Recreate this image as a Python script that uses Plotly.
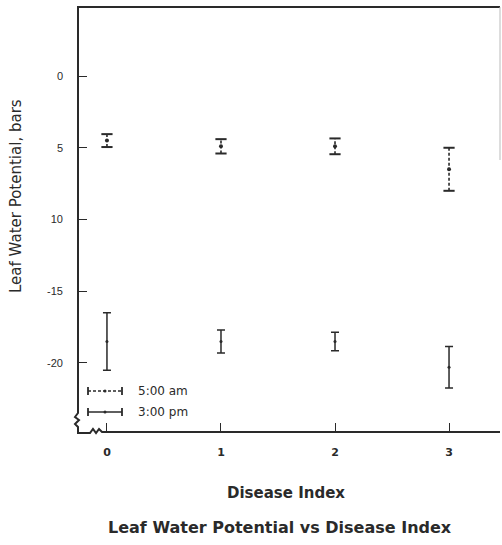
import plotly.graph_objects as go

# ---- data ----
disease_index = [0, 1, 2, 3]
am_mean = [-4.5, -4.9, -4.9, -6.5]
am_err = [0.45, 0.5, 0.55, 1.5]
pm_mean = [-18.5, -18.5, -18.5, -20.3]
pm_err = [2.0, 0.8, 0.65, 1.45]
y_tickvals = [0, -5, -10, -15, -20]
y_ticktext = ["0", "5", "10", "-15", "-20"]
x_tickvals = [0, 1, 2, 3]
legend_labels = ["5:00 am", "3:00 pm"]

W, H = 502, 545
L, R, T, B = 78, 500, 7, 432
INK = "#2a2a2a"
FONT = "DejaVu Sans, Liberation Sans, sans-serif"


def px(x, y):
    return (x - L) / (R - L), (B - y) / (B - T)


fig = go.Figure()

# 5:00 am: dashed vertical bars built from the data
xs, ys = [], []
for x, m, e in zip(disease_index, am_mean, am_err):
    xs += [x, x, None]
    ys += [m - e, m + e, None]
fig.add_trace(go.Scatter(x=xs, y=ys, mode="lines",
                         line=dict(color=INK, width=1.6, dash="3px,2px"),
                         showlegend=False, hoverinfo="skip"))
cap_x = [x for x in disease_index for _ in (0, 1)]
cap_y = [v for m, e in zip(am_mean, am_err) for v in (m - e, m + e)]
fig.add_trace(go.Scatter(x=cap_x, y=cap_y, mode="markers",
                         marker=dict(symbol="line-ew", size=8,
                                     line=dict(color=INK, width=2)),
                         showlegend=False, hoverinfo="skip"))
fig.add_trace(go.Scatter(x=disease_index, y=am_mean, mode="markers",
                         marker=dict(symbol="circle", size=4, color=INK),
                         name=legend_labels[0], showlegend=False))

# 3:00 pm: solid error bars
fig.add_trace(go.Scatter(x=disease_index, y=pm_mean, mode="markers",
                         marker=dict(symbol="circle", size=3, color=INK),
                         error_y=dict(type="data", array=pm_err, visible=True,
                                      color=INK, thickness=1.5, width=4),
                         name=legend_labels[1], showlegend=False))

shapes = []
# frame with broken-axis squiggles
pts = [(R, T), (L, T), (L, 413), (75, 417), (79, 420), (75, 424), (78, 427),
       (78, 433), (90, 433), (93, 429), (96, 433), (99, 429), (102, 432), (R, 432)]
path = "M " + " L ".join(f"{px(a, b)[0]:.4f},{px(a, b)[1]:.4f}" for a, b in pts)
shapes.append(dict(type="path", xref="paper", yref="paper", path=path,
                   line=dict(color=INK, width=2)))
# faint right frame edge
x0, y0 = px(R, T)
x1, y1 = px(R, 160)
shapes.append(dict(type="line", xref="paper", yref="paper", x0=x0, y0=y0, x1=x1, y1=y1,
                   line=dict(color="#bbbbbb", width=1)))

# legend keys
annotations = []
for label, ky, dash in [(legend_labels[0], 391, "3px,2px"), (legend_labels[1], 412, "solid")]:
    xa, ya = px(88, ky)
    xb, _ = px(122, ky)
    _, yt = px(88, ky - 4)
    _, yb = px(88, ky + 4)
    shapes.append(dict(type="line", xref="paper", yref="paper", x0=xa, y0=ya, x1=xb, y1=ya,
                       line=dict(color=INK, width=1.6, dash=dash)))
    for xc in (xa, xb):
        shapes.append(dict(type="line", xref="paper", yref="paper", x0=xc, y0=yt, x1=xc, y1=yb,
                           line=dict(color=INK, width=1.8)))
    xm = (xa + xb) / 2
    shapes.append(dict(type="circle", xref="paper", yref="paper",
                       x0=xm - 1.5 / (R - L), x1=xm + 1.5 / (R - L),
                       y0=ya - 1.5 / (B - T), y1=ya + 1.5 / (B - T),
                       fillcolor=INK, line=dict(width=0)))
    tx, _ = px(136, ky)
    annotations.append(dict(x=tx, y=ya, xref="paper", yref="paper", text=label,
                            showarrow=False, xanchor="left", yanchor="middle",
                            font=dict(size=12, color=INK, family=FONT)))

# axis titles and main title
ax, ay = px(286, 493)
annotations.append(dict(x=ax, y=ay, xref="paper", yref="paper",
                        text="<b>Disease Index</b>", showarrow=False,
                        xanchor="center", yanchor="middle",
                        font=dict(size=15, color=INK, family=FONT)))
tx, ty = px(280, 527)
annotations.append(dict(x=tx, y=ty, xref="paper", yref="paper",
                        text="<b>Leaf Water Potential vs Disease Index</b>",
                        showarrow=False, xanchor="center", yanchor="middle",
                        font=dict(size=16, color=INK, family=FONT)))
yx, yy = px(16, 196)
annotations.append(dict(x=yx, y=yy, xref="paper", yref="paper",
                        text="Leaf Water Potential, bars", textangle=-90,
                        showarrow=False, xanchor="center", yanchor="middle",
                        font=dict(size=15, color=INK, family=FONT)))

fig.update_layout(
    width=W, height=H,
    margin=dict(l=L, r=W - R, t=T, b=H - B, pad=0),
    paper_bgcolor="white", plot_bgcolor="white",
    font=dict(family=FONT, color=INK),
    shapes=shapes, annotations=annotations, showlegend=False,
    xaxis=dict(range=[-0.254, 3.447], tickvals=x_tickvals,
               ticktext=[f"<b>{v}</b>" for v in x_tickvals], ticks="inside",
               ticklen=9, tickwidth=1.3, tickcolor=INK, showgrid=False,
               zeroline=False, showline=False, ticklabelstandoff=12,
               tickfont=dict(size=11, color=INK)),
    yaxis=dict(range=[-24.81, 4.81], tickvals=y_tickvals, ticktext=y_ticktext,
               ticks="inside", ticklen=9, tickwidth=1.3, tickcolor=INK,
               showgrid=False, zeroline=False, showline=False,
               ticklabelstandoff=14,
               tickfont=dict(size=11, color=INK, family="Liberation Sans, Arial, sans-serif")),
)

fig.write_html("out.html", config={"displayModeBar": False},
               post_script="document.body.style.margin='0';")
